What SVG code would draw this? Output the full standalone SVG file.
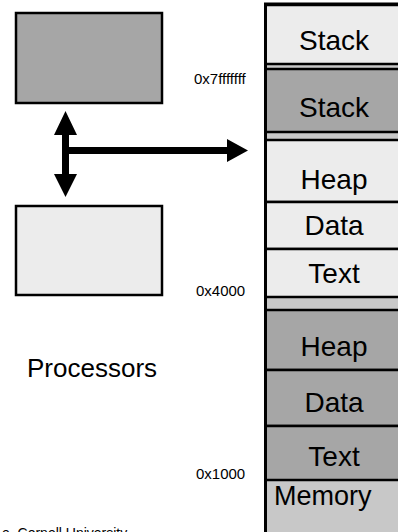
<svg xmlns="http://www.w3.org/2000/svg" width="398" height="532" viewBox="0 0 398 532">
<style>
text{font-family:"Liberation Sans",Arial,sans-serif;fill:#000}
.seg{stroke:#000;stroke-width:2.5}
.light{fill:#ececec}
.dark{fill:#a6a6a6}
.lbl{font-size:28px;text-anchor:middle}
.addr{font-size:15px}
.arrow{fill:#000}
</style>
<rect width="398" height="532" fill="#fff"/>
<g id="cpu1"><rect x="16" y="13" width="146" height="90" class="seg dark"/></g>
<g id="cpu2"><rect x="16" y="206" width="146" height="89" class="seg light"/></g>
<g id="processors-label"><text x="27" y="377" style="font-size:26px">Processors</text></g>
<g id="memory">
<rect x="265.5" y="4" width="150" height="540" fill="#c8c8c8" stroke="#000" stroke-width="3"/>
<g id="stack1"><rect x="265.5" y="5" width="150" height="59" class="seg light"/><text class="lbl" x="334" y="50">Stack</text></g>
<g id="stack2"><rect x="265.5" y="69" width="150" height="63" class="seg dark"/><text class="lbl" x="334" y="117">Stack</text></g>
<g id="heap1"><rect x="265.5" y="140" width="150" height="62" class="seg light"/><text class="lbl" x="334" y="189">Heap</text></g>
<g id="data1"><rect x="265.5" y="202" width="150" height="47" class="seg light"/><text class="lbl" x="334" y="235">Data</text></g>
<g id="text1"><rect x="265.5" y="249" width="150" height="48" class="seg light"/><text class="lbl" x="334" y="283">Text</text></g>
<g id="heap2"><rect x="265.5" y="310" width="150" height="60" class="seg dark"/><text class="lbl" x="334" y="356">Heap</text></g>
<g id="data2"><rect x="265.5" y="370" width="150" height="56" class="seg dark"/><text class="lbl" x="334" y="412">Data</text></g>
<g id="text2"><rect x="265.5" y="426" width="150" height="54" class="seg dark"/><text class="lbl" x="334" y="466">Text</text></g>
<line x1="265.5" y1="4" x2="265.5" y2="532" stroke="#000" stroke-width="3"/>
<text x="274" y="505" style="font-size:27px">Memory</text>
</g>
<g id="addresses">
<text class="addr" x="194" y="84">0x7fffffff</text>
<text class="addr" x="196" y="296">0x4000</text>
<text class="addr" x="196" y="479">0x1000</text>
</g>
<g id="connectors">
<polygon class="arrow" points="65.5,111 77,135 69,135 69,174 77,174 65.5,197 54,174 62,174 62,135 54,135"/>
<polygon class="arrow" points="62,147 227,147 227,139 248,150.5 227,162 227,154 62,154"/>
</g>
<text x="2" y="538" style="font-size:14px">e, Cornell University</text>
</svg>
